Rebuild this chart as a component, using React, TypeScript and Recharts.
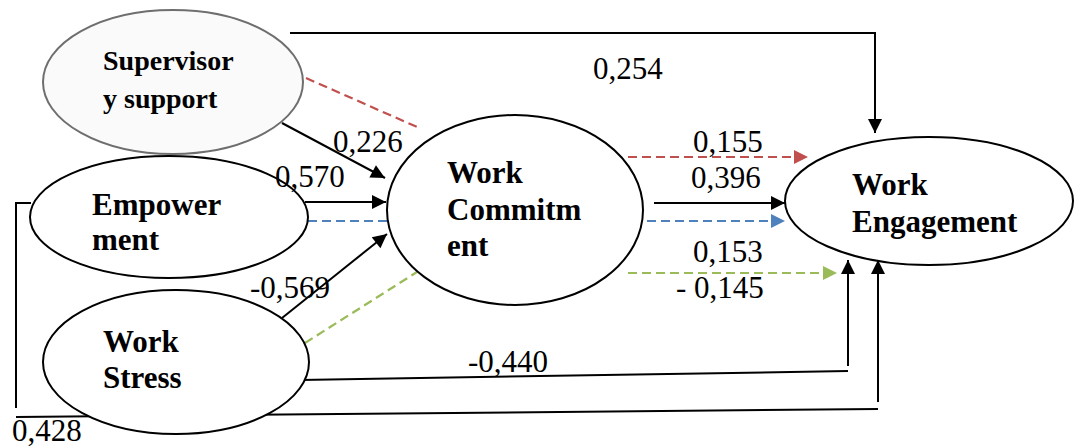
import { ScatterChart, Scatter, XAxis, YAxis } from 'recharts';

// diagram space = pixel space (0..1076 x 0..448, y grows downward)
const W = 1076;
const H = 448;

const nodes = [
  { id: 'sup', x: 173, y: 82, lines: ['Supervisor', 'y support'] },
  { id: 'emp', x: 169, y: 217, lines: ['Empower', 'ment'] },
  { id: 'str', x: 176, y: 362, lines: ['Work', 'Stress'] },
  { id: 'com', x: 515, y: 210, lines: ['Work', 'Commitm', 'ent'] },
  { id: 'eng', x: 929, y: 201, lines: ['Work', 'Engagement'] },
];

// path segments between the constructs
const supToEng = [{ x: 290, y: 33 }, { x: 875, y: 33 }, { x: 875, y: 133 }];
const supToCom = [{ x: 282, y: 123 }, { x: 385, y: 178 }];
const empToCom = [{ x: 305, y: 202 }, { x: 386, y: 202 }];
const strToCom = [{ x: 282, y: 318 }, { x: 387, y: 234 }];
const comToEng = [{ x: 654, y: 203 }, { x: 785, y: 203 }];
const strToEngA = [{ x: 300, y: 380 }, { x: 848, y: 371 }];
const strToEngB = [{ x: 848, y: 366 }, { x: 848, y: 260 }];
const empToEngA = [{ x: 31, y: 203 }, { x: 16, y: 203 }, { x: 16, y: 408 }];
const empToEngB = [{ x: 16, y: 417 }, { x: 878, y: 409 }];
const empToEngC = [{ x: 878, y: 402 }, { x: 878, y: 260 }];

// mediated (indirect) paths
const supMedIn = [{ x: 306, y: 78 }, { x: 417, y: 127 }];
const supMedOut = [{ x: 628, y: 157 }, { x: 808, y: 157 }];
const empMedIn = [{ x: 308, y: 221 }, { x: 387, y: 221 }];
const empMedOut = [{ x: 647, y: 221 }, { x: 785, y: 221 }];
const strMedIn = [{ x: 305, y: 343 }, { x: 417, y: 272 }];
const strMedOut = [{ x: 628, y: 273 }, { x: 837, y: 273 }];

const coefficients = [
  { x: 593, y: 79, text: '0,254' },
  { x: 333, y: 152, text: '0,226' },
  { x: 275, y: 187, text: '0,570' },
  { x: 250, y: 298, text: '-0,569' },
  { x: 693, y: 152, text: '0,155' },
  { x: 691, y: 188, text: '0,396' },
  { x: 693, y: 262, text: '0,153' },
  { x: 676, y: 298, text: '- 0,145' },
  { x: 468, y: 372, text: '-0,440' },
  { x: 12, y: 441, text: '0,428' },
];

const RED = '#c0504d';
const BLUE = '#4f81bd';
const GREEN = '#9bbb59';

const nodeStyle: Record<string, { rx: number; ry: number; dx: number; dy: number; gap: number; stroke: string; fill: string; size: number }> = {
  sup: { rx: 130, ry: 72, dx: -70, dy: -12, gap: 38, stroke: '#6e6e6e', fill: '#fafafa', size: 28 },
  emp: { rx: 139, ry: 61, dx: -77, dy: -2, gap: 35, stroke: '#000', fill: '#fff', size: 31 },
  str: { rx: 133, ry: 72, dx: -73, dy: -10, gap: 36, stroke: '#000', fill: '#fff', size: 31 },
  com: { rx: 128, ry: 95, dx: -68, dy: -27, gap: 36.5, stroke: '#000', fill: '#fff', size: 31 },
  eng: { rx: 144, ry: 64, dx: -77, dy: -6, gap: 37, stroke: '#000', fill: '#fff', size: 31 },
};

const SERIF = '"Liberation Serif", "Times New Roman", serif';

const hidden = () => <g />;

function NodeShape(props: any) {
  const { cx, cy, payload } = props;
  const s = nodeStyle[payload.id];
  return (
    <g>
      <ellipse cx={cx} cy={cy} rx={s.rx} ry={s.ry} fill={s.fill} stroke={s.stroke} strokeWidth={2} />
      {payload.lines.map((t: string, i: number) => (
        <text
          key={t}
          x={cx + s.dx}
          y={cy + s.dy + i * s.gap}
          fontFamily={SERIF}
          fontWeight="bold"
          fontSize={s.size}
          fill="#000"
        >
          {t}
        </text>
      ))}
    </g>
  );
}

function ArrowHead(props: any) {
  const { cx, cy, payload } = props;
  const deg = (Math.atan2(payload.y - payload.fy, payload.x - payload.fx) * 180) / Math.PI;
  return (
    <polygon
      points="0,0 -14,-7 -14,7"
      fill={payload.color}
      transform={`translate(${cx},${cy}) rotate(${deg})`}
    />
  );
}

function LabelShape(props: any) {
  const { cx, cy, payload } = props;
  return (
    <text x={cx} y={cy} fontFamily={SERIF} fontSize={31} fill="#000">
      {payload.text}
    </text>
  );
}

const solid = [supToEng, supToCom, empToCom, strToCom, comToEng, strToEngA, strToEngB, empToEngA, empToEngB, empToEngC];
const dashed = [
  { pts: supMedIn, color: RED },
  { pts: supMedOut, color: RED },
  { pts: empMedIn, color: BLUE },
  { pts: empMedOut, color: BLUE },
  { pts: strMedIn, color: GREEN },
  { pts: strMedOut, color: GREEN },
];

const arrowPaths = [
  { pts: supToEng, color: '#000' },
  { pts: supToCom, color: '#000' },
  { pts: empToCom, color: '#000' },
  { pts: strToCom, color: '#000' },
  { pts: comToEng, color: '#000' },
  { pts: strToEngB, color: '#000' },
  { pts: empToEngC, color: '#000' },
  { pts: supMedOut, color: RED },
  { pts: empMedOut, color: BLUE },
  { pts: strMedOut, color: GREEN },
];

const arrowTips = arrowPaths.map(({ pts, color }) => {
  const a = pts[pts.length - 2];
  const b = pts[pts.length - 1];
  return { x: b.x, y: b.y, fx: a.x, fy: a.y, color };
});

export default function App() {
  return (
    <div style={{ position: 'absolute', left: 0, top: 0, width: W, height: H, background: '#fff' }}>
      <ScatterChart width={W} height={H} margin={{ top: 0, right: 0, bottom: 0, left: 0 }}>
        <XAxis type="number" dataKey="x" domain={[0, W]} hide allowDataOverflow />
        <YAxis type="number" dataKey="y" domain={[0, H]} reversed hide allowDataOverflow />
        {solid.map((pts, i) => (
          <Scatter
            key={`s${i}`}
            data={pts}
            line={{ stroke: '#000', strokeWidth: 2 }}
            lineType="joint"
            shape={hidden}
            isAnimationActive={false}
          />
        ))}
        {dashed.map((d, i) => (
          <Scatter
            key={`d${i}`}
            data={d.pts}
            line={{ stroke: d.color, strokeWidth: 2.2, strokeDasharray: '9 5' }}
            lineType="joint"
            shape={hidden}
            isAnimationActive={false}
          />
        ))}
        <Scatter data={nodes} shape={NodeShape} isAnimationActive={false} />
        <Scatter data={arrowTips} shape={ArrowHead} isAnimationActive={false} />
        <Scatter data={coefficients} shape={LabelShape} isAnimationActive={false} />
      </ScatterChart>
    </div>
  );
}
